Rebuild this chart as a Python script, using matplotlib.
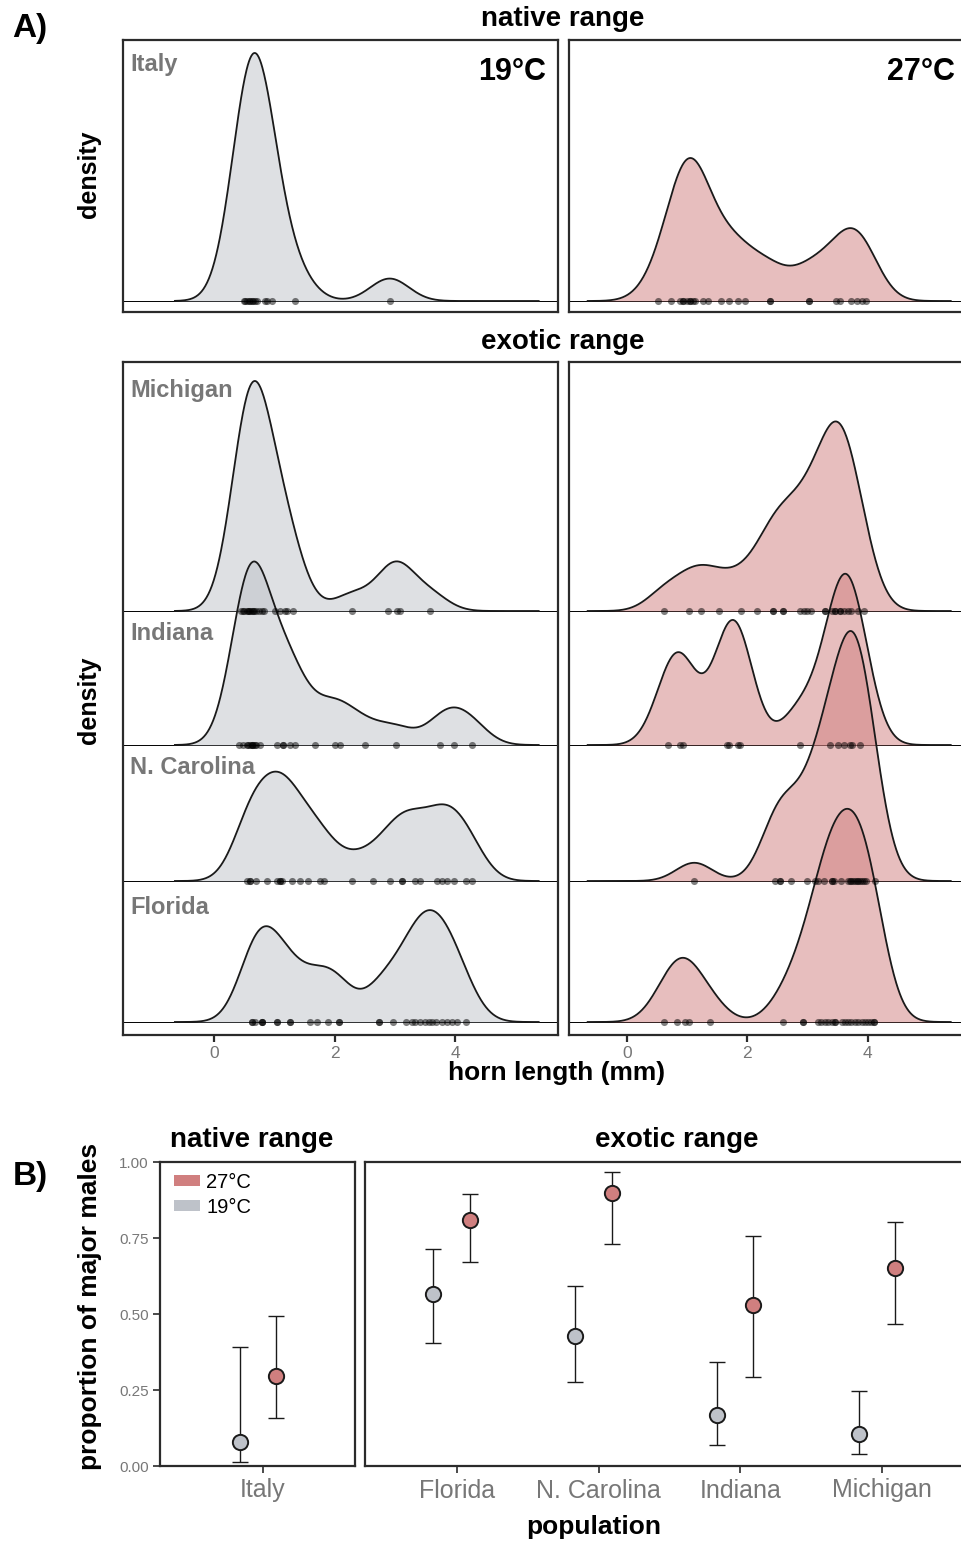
import numpy as np
import matplotlib.pyplot as plt

plt.rcParams['font.family'] = ['Liberation Sans', 'DejaVu Sans']

# ---- panel A data: horn lengths (mm) ----
italy19 = [0.49, 0.52, 0.55, 0.58, 0.60, 0.63, 0.65, 0.68, 0.71, 0.85, 0.87, 0.96, 1.34, 2.91]
italy27 = [0.51, 0.74, 0.88, 0.94, 0.94, 1.00, 1.05, 1.05, 1.10, 1.13, 1.27, 1.35, 1.57, 1.70,
           1.85, 1.96, 2.38, 2.38, 3.03, 3.03, 3.48, 3.54, 3.73, 3.82, 3.90, 3.98]
michigan19 = [0.45, 0.48, 0.50, 0.54, 0.56, 0.58, 0.60, 0.62, 0.64, 0.66, 0.70, 0.74, 0.79, 0.82,
              1.01, 1.09, 1.17, 1.20, 1.31, 2.28, 2.89, 3.03, 3.08, 3.58]
indiana19 = [0.42, 0.48, 0.54, 0.56, 0.59, 0.62, 0.62, 0.65, 0.68, 0.70, 0.76, 1.04, 1.15, 1.15,
             1.26, 1.34, 1.67, 2.00, 2.09, 2.50, 3.02, 3.75, 3.97, 4.28]
nc19 = [0.54, 0.60, 0.60, 0.70, 0.87, 1.04, 1.09, 1.09, 1.12, 1.29, 1.42, 1.56, 1.76, 1.82, 2.28,
        2.64, 2.92, 3.11, 3.11, 3.33, 3.42, 3.69, 3.78, 3.86, 3.97, 4.17, 4.28]
florida19 = [0.62, 0.62, 0.68, 0.80, 0.80, 0.80, 1.05, 1.05, 1.26, 1.26, 1.59, 1.70, 1.89,
             2.07, 2.07, 2.74, 2.74, 2.97, 3.18, 3.28, 3.33, 3.42, 3.50, 3.56, 3.61, 3.67, 3.78,
             3.86, 3.94, 4.03, 4.18]
michigan27 = [0.62, 1.03, 1.24, 1.53, 1.89, 2.17, 2.43, 2.43, 2.60, 2.60, 2.87, 2.95, 3.00, 3.06,
              3.29, 3.29, 3.40, 3.46, 3.46, 3.54, 3.54, 3.60, 3.68, 3.72, 3.84, 3.94]
indiana27 = [0.68, 0.88, 0.94, 1.66, 1.69, 1.84, 1.88, 2.87, 3.37, 3.50, 3.60, 3.70, 3.74, 3.87]
nc27 = [1.12, 2.46, 2.54, 2.54, 2.72, 3.00, 3.12, 3.18, 3.28, 3.40, 3.40, 3.44, 3.55, 3.67, 3.70,
        3.72, 3.76, 3.79, 3.82, 3.84, 3.88, 3.90, 3.94, 3.98, 4.13]
florida27 = [0.62, 0.84, 0.96, 1.03, 1.38, 2.60, 2.93, 2.93, 3.18, 3.23, 3.29, 3.34, 3.40, 3.46,
             3.46, 3.57, 3.62, 3.68, 3.73, 3.79, 3.84, 3.90, 3.95, 4.01, 4.06, 4.11, 4.11]

exotic_names = ['Michigan', 'Indiana', 'N. Carolina', 'Florida']
exotic19 = [michigan19, indiana19, nc19, florida19]
exotic27 = [michigan27, indiana27, nc27, florida27]

# ---- panel B data: proportion of major males with CI ----
pop_exotic = ['Florida', 'N. Carolina', 'Indiana', 'Michigan']
p19 = [0.567, 0.428, 0.168, 0.105]
lo19 = [0.406, 0.277, 0.070, 0.041]
hi19 = [0.714, 0.592, 0.343, 0.248]
p27 = [0.808, 0.899, 0.531, 0.652]
lo27 = [0.672, 0.731, 0.294, 0.468]
hi27 = [0.896, 0.968, 0.757, 0.804]
italy_p19, italy_lo19, italy_hi19 = 0.078, 0.012, 0.390
italy_p27, italy_lo27, italy_hi27 = 0.297, 0.158, 0.492

PINK = '#D07F7F'
GREY = '#BEC2C9'
DARK = '#2b2b2b'
LABEL_GREY = '#777777'

W, H = 961, 1541
fig = plt.figure(figsize=(W / 100, H / 100), dpi=100)


def px_axes(x0, y0, x1, y1):
    return fig.add_axes([x0 / W, 1 - y1 / H, (x1 - x0) / W, (y1 - y0) / H])


def ftext(x, y, s, **kw):
    fig.text(x / W, 1 - y / H, s, **kw)


def kde(x, grid, bw):
    x = np.asarray(x)
    z = (grid[:, None] - x[None, :]) / bw
    return np.exp(-0.5 * z ** 2).sum(1) / (len(x) * bw * np.sqrt(2 * np.pi))


def style_ridge_axes(ax, xlim, h):
    ax.set_xlim(*xlim)
    ax.set_ylim(0, h)
    ax.set_yticks([])
    ax.set_xticks([0, 2, 4])
    for s in ax.spines.values():
        s.set_linewidth(1.6)
        s.set_color(DARK)
    ax.tick_params(axis='x', length=5, width=1.6, color=DARK, labelcolor=LABEL_GREY,
                   labelsize=12.5, pad=3)


def draw_ridge(ax, data, grid, bw, k, base, color):
    d = kde(data, grid, bw) * k
    ax.axhline(base, color='black', lw=0.7, zorder=1)
    ax.fill_between(grid, base, base + d, color=color, alpha=0.5, lw=0, zorder=2)
    ax.plot(grid, base + d, color='#1a1a1a', lw=1.3, zorder=3)
    ax.scatter(data, np.full(len(data), base), s=26, color='black', alpha=0.5, lw=0, zorder=4)


# ---------------- Panel A ----------------
left_xlim = (-1.51, 5.70)
right_xlim = (-0.96, 5.65)
grid = np.linspace(-0.65, 5.38, 600)

# native range: one ridge per facet, tallest ridge height per facet (px)
nat_bw = 0.32
nat_scale = [248, 143]
nat_base = 11

axn1 = px_axes(123, 40, 558, 312)
axn2 = px_axes(569, 40, 967, 312)
for ax, data, col, xl, sc in [(axn1, italy19, GREY, left_xlim, nat_scale[0]),
                              (axn2, italy27, PINK, right_xlim, nat_scale[1])]:
    style_ridge_axes(ax, xl, 272)
    ax.set_xticks([])
    k = sc / kde(data, grid, nat_bw).max()
    draw_ridge(ax, data, grid, nat_bw, k, nat_base, col)

# exotic range
ex_bw = 0.30
ex_scale = [230, 250]
bases = [424, 290, 154, 13]

axe1 = px_axes(123, 362, 558, 1035)
axe2 = px_axes(569, 362, 967, 1035)
for ax, groups, col, xl, sc in [(axe1, exotic19, GREY, left_xlim, ex_scale[0]),
                                (axe2, exotic27, PINK, right_xlim, ex_scale[1])]:
    style_ridge_axes(ax, xl, 673)
    k = sc / max(kde(g, grid, ex_bw).max() for g in groups)
    for data, b in zip(groups, bases):
        draw_ridge(ax, data, grid, ex_bw, k, b, col)

# panel A text
ftext(30, 28, 'A)', fontsize=24, fontweight='bold', ha='center', va='center')
ftext(563, 19, 'native range', fontsize=20, fontweight='bold', ha='center', va='center')
ftext(563, 342, 'exotic range', fontsize=20, fontweight='bold', ha='center', va='center')
ftext(557, 1073, 'horn length (mm)', fontsize=19, fontweight='bold', ha='center', va='center')
ftext(89, 174, 'density', fontsize=18, fontweight='bold', ha='center', va='center', rotation=90)
ftext(89, 700, 'density', fontsize=18, fontweight='bold', ha='center', va='center', rotation=90)
ftext(546, 72, '19°C', fontsize=22, fontweight='bold', ha='right', va='center')
ftext(955, 72, '27°C', fontsize=22, fontweight='bold', ha='right', va='center')
ftext(130, 65, 'Italy', fontsize=17, fontweight='bold', color=LABEL_GREY, ha='left', va='center')
for name, y in zip(exotic_names, [390, 633, 767, 908]):
    ftext(130, y, name, fontsize=17, fontweight='bold', color=LABEL_GREY, ha='left', va='center')

# ---------------- Panel B ----------------
off19, off27 = -0.165, 0.092


def style_b(ax):
    ax.set_ylim(0, 1)
    for s in ax.spines.values():
        s.set_linewidth(1.6)
        s.set_color(DARK)
    ax.tick_params(axis='both', length=5, width=1.2, color=DARK, labelcolor=LABEL_GREY)
    ax.tick_params(axis='x', labelsize=18, pad=4)
    ax.tick_params(axis='y', labelsize=11, pad=3)


def draw_points(ax, xs, p, lo, hi, col):
    xs = np.asarray(xs, dtype=float)
    p, lo, hi = np.asarray(p), np.asarray(lo), np.asarray(hi)
    ax.errorbar(xs, p, yerr=[p - lo, hi - p], fmt='none', ecolor='#1a1a1a', elinewidth=1.0,
                capsize=6, capthick=1.0, zorder=2)
    ax.plot(xs, p, 'o', ms=11, mfc=col, mec='#1a1a1a', mew=1.4, zorder=3)


axb1 = px_axes(160, 1162, 355, 1466)
style_b(axb1)
axb1.set_xlim(0.275, 1.648)
axb1.set_xticks([1])
axb1.set_xticklabels(['Italy'])
axb1.set_yticks([0, 0.25, 0.5, 0.75, 1.0])
axb1.set_yticklabels(['0.00', '0.25', '0.50', '0.75', '1.00'])
draw_points(axb1, [1 + off19], [italy_p19], [italy_lo19], [italy_hi19], GREY)
draw_points(axb1, [1 + off27], [italy_p27], [italy_lo27], [italy_hi27], PINK)

h27 = axb1.bar([0], [0], color=PINK, label='27°C')
h19 = axb1.bar([0], [0], color=GREY, label='19°C')
axb1.legend(handles=[h27, h19], loc='upper left', frameon=False, fontsize=14.5,
            handlelength=1.3, handleheight=0.5, handletextpad=0.3, labelspacing=0.3,
            borderaxespad=0, borderpad=0, bbox_to_anchor=(0.072, 0.965))

axb2 = px_axes(365, 1162, 974, 1466)
style_b(axb2)
xe = np.arange(1, len(pop_exotic) + 1)
axb2.set_xlim(0.352, 4.648)
axb2.set_xticks(xe)
axb2.set_xticklabels(pop_exotic)
axb2.set_yticks([])
draw_points(axb2, xe + off19, p19, lo19, hi19, GREY)
draw_points(axb2, xe + off27, p27, lo27, hi27, PINK)

ftext(30, 1176, 'B)', fontsize=24, fontweight='bold', ha='center', va='center')
ftext(252, 1140, 'native range', fontsize=20, fontweight='bold', ha='center', va='center')
ftext(677, 1140, 'exotic range', fontsize=20, fontweight='bold', ha='center', va='center')
ftext(594, 1527, 'population', fontsize=19, fontweight='bold', ha='center', va='center')
ftext(90, 1306, 'proportion of major males', fontsize=19, fontweight='bold', ha='center',
      va='center', rotation=90)

fig.savefig('out.png', dpi=100)
